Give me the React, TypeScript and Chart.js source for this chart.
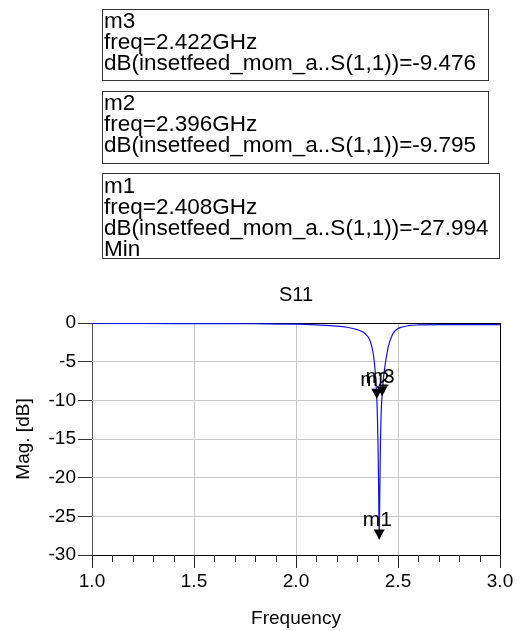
import React, { useEffect, useRef } from "react";
import { Chart, registerables } from "chart.js";

Chart.register(...registerables);

// ---- data ----
const freqGHz = [
  1.0, 1.2, 1.5, 1.8, 2.0, 2.1, 2.2, 2.25, 2.3, 2.33, 2.35, 2.36, 2.37, 2.38, 2.385,
  2.39, 2.393, 2.396, 2.399, 2.402, 2.405, 2.408, 2.411, 2.414, 2.417, 2.42, 2.422,
  2.425, 2.43, 2.437, 2.445, 2.453, 2.465, 2.477, 2.49, 2.51, 2.55, 2.6, 2.7, 2.8, 3.0,
];
const s11dB = [
  -0.03, -0.06, -0.08, -0.1, -0.15, -0.25, -0.4, -0.55, -0.85, -1.2, -1.7, -2.1, -2.9, -4.2, -5.3,
  -6.9, -8.2, -9.795, -12, -15.5, -21, -27.994, -21.5, -15.5, -12, -10.2, -9.476,
  -8.3, -6.8, -5.4, -4.1, -3.0, -2.0, -1.3, -0.9, -0.6, -0.35, -0.25, -0.2, -0.2, -0.2,
];
const markerNames = ["m1", "m2", "m3"];
const markerFreq = [2.408, 2.396, 2.422];
const markerDb = [-27.994, -9.795, -9.476];
const markerNotes = ["Min", "", ""];
const traceName = "dB(insetfeed_mom_a..S(1,1))";
const xTickValues = [1.0, 1.5, 2.0, 2.5, 3.0];
const xMinorStep = 0.1;
const yTickValues = [-30, -25, -20, -15, -10, -5, 0];
const chartTitle = "S11";
const xTitle = "Frequency";
const yTitle = "Mag. [dB]";

const FONT = "Arial, 'Liberation Sans', sans-serif";

// box layout (top-to-bottom order: m3, m2, m1)
const boxOrder = [2, 1, 0];
const boxGeom = [
  { left: 102, top: 9, width: 387, height: 72, padTop: 0 },
  { left: 102, top: 91, width: 387, height: 73, padTop: 0 },
  { left: 102, top: 173, width: 398, height: 86, padTop: 1 },
];

const minorTicksPlugin = {
  id: "minorTicks",
  afterDraw(chart: any) {
    const ctx = chart.ctx;
    const xs = chart.scales.x;
    const area = chart.chartArea;
    ctx.save();
    ctx.strokeStyle = "#222";
    ctx.lineWidth = 1;
    const start = xs.min;
    const n = Math.round((xs.max - xs.min) / xMinorStep);
    for (let i = 1; i < n; i++) {
      const v = start + i * xMinorStep;
      if (xTickValues.some((t) => Math.abs(t - v) < 1e-6)) continue;
      const px = Math.round(xs.getPixelForValue(v)) + 0.5;
      ctx.beginPath();
      ctx.moveTo(px, area.bottom);
      ctx.lineTo(px, area.bottom + 7);
      ctx.stroke();
    }
    ctx.restore();
  },
};

const markerPlugin = {
  id: "markers",
  afterDatasetsDraw(chart: any) {
    const ctx = chart.ctx;
    const xs = chart.scales.x;
    const ys = chart.scales.y;
    ctx.save();
    for (let i = 0; i < markerNames.length; i++) {
      const px = xs.getPixelForValue(markerFreq[i]);
      const py = ys.getPixelForValue(markerDb[i]);
      ctx.fillStyle = "#000";
      ctx.beginPath();
      ctx.moveTo(px - 5.5, py - 10);
      ctx.lineTo(px + 5.5, py - 10);
      ctx.lineTo(px, py);
      ctx.closePath();
      ctx.fill();
      ctx.font = `21px ${FONT}`;
      ctx.textAlign = "center";
      ctx.textBaseline = "alphabetic";
      ctx.fillText(markerNames[i], px - 2, py - 13);
    }
    ctx.restore();
  },
};

export default function App() {
  const canvasRef = useRef<HTMLCanvasElement | null>(null);

  useEffect(() => {
    if (!canvasRef.current) return;
    const data = freqGHz.map((f, i) => ({ x: f, y: s11dB[i] }));
    const chart = new Chart(canvasRef.current, {
      type: "line",
      data: {
        datasets: [
          {
            label: traceName,
            data,
            borderColor: "#1010f0",
            borderWidth: 1.2,
            pointRadius: 0,
            cubicInterpolationMode: "monotone",
            fill: false,
          },
        ],
      },
      options: {
        animation: false,
        responsive: false,
        maintainAspectRatio: false,
        layout: { padding: { top: 283, right: 21, left: 0, bottom: 0 } },
        plugins: {
          legend: { display: false },
          tooltip: { enabled: false },
          title: {
            display: true,
            fullSize: false,
            text: chartTitle,
            color: "#000",
            font: { family: FONT, size: 20, weight: "normal" },
            padding: { top: 0, bottom: 16 },
          },
        },
        scales: {
          x: {
            type: "linear",
            min: 1,
            max: 3,
            afterBuildTicks: (s: any) => {
              s.ticks = xTickValues.map((v) => ({ value: v }));
            },
            afterFit: (s: any) => {
              s.height = 76;
            },
            ticks: {
              color: "#000",
              font: { family: FONT, size: 19 },
              padding: 2,
              maxRotation: 0,
              autoSkip: false,
              callback: (v: any) => Number(v).toFixed(1),
            },
            grid: {
              drawTicks: true,
              tickLength: 13,
              tickColor: "#222",
              color: (c: any) => {
                const v = c.tick ? c.tick.value : 0;
                if (Math.abs(v - 1) < 1e-6) return "#555";
                if (Math.abs(v - 3) < 1e-6) return "#000";
                return "#c8c8c8";
              },
            },
            border: { display: false },
            title: {
              display: true,
              text: xTitle,
              color: "#000",
              font: { family: FONT, size: 19 },
              padding: { top: 0, bottom: 1 },
            },
          },
          y: {
            type: "linear",
            min: -30,
            max: 0,
            afterBuildTicks: (s: any) => {
              s.ticks = yTickValues.map((v) => ({ value: v }));
            },
            afterFit: (s: any) => {
              s.width = 92;
            },
            ticks: {
              color: "#000",
              font: { family: FONT, size: 19 },
              padding: 2,
              autoSkip: false,
            },
            grid: {
              drawTicks: true,
              tickLength: 14,
              tickColor: "#333",
              color: (c: any) => {
                const v = c.tick ? c.tick.value : 0;
                if (v === 0 || v === -30) return "#000";
                return "#c8c8c8";
              },
            },
            border: { display: false },
            title: {
              display: true,
              text: yTitle,
              color: "#000",
              font: { family: FONT, size: 19 },
              padding: { top: 12, bottom: 0 },
            },
          },
        },
      },
      plugins: [minorTicksPlugin, markerPlugin],
    } as any);
    return () => chart.destroy();
  }, []);

  return (
    <div
      style={{
        position: "absolute",
        left: 0,
        top: 0,
        width: 521,
        height: 631,
        background: "#fff",
        overflow: "hidden",
      }}
    >
      <canvas
        ref={canvasRef}
        width={521}
        height={631}
        style={{ position: "absolute", left: 0, top: 0, width: 521, height: 631 }}
      />
      {boxOrder.map((mi, k) => {
        const g = boxGeom[k];
        const lines = [
          markerNames[mi],
          `freq=${markerFreq[mi].toFixed(3)}GHz`,
          `${traceName}=${markerDb[mi].toFixed(3)}`,
        ];
        if (markerNotes[mi]) lines.push(markerNotes[mi]);
        return (
          <div
            key={mi}
            style={{
              position: "absolute",
              left: g.left,
              top: g.top,
              width: g.width,
              height: g.height,
              boxSizing: "border-box",
              border: "1px solid #333",
              paddingLeft: 1,
              paddingTop: g.padTop,
              fontFamily: FONT,
              fontSize: 22.5,
              lineHeight: "21px",
              color: "#000",
              whiteSpace: "pre",
              overflow: "visible",
            }}
          >
            {lines.map((l, j) => (
              <div key={j}>{l}</div>
            ))}
          </div>
        );
      })}
    </div>
  );
}
